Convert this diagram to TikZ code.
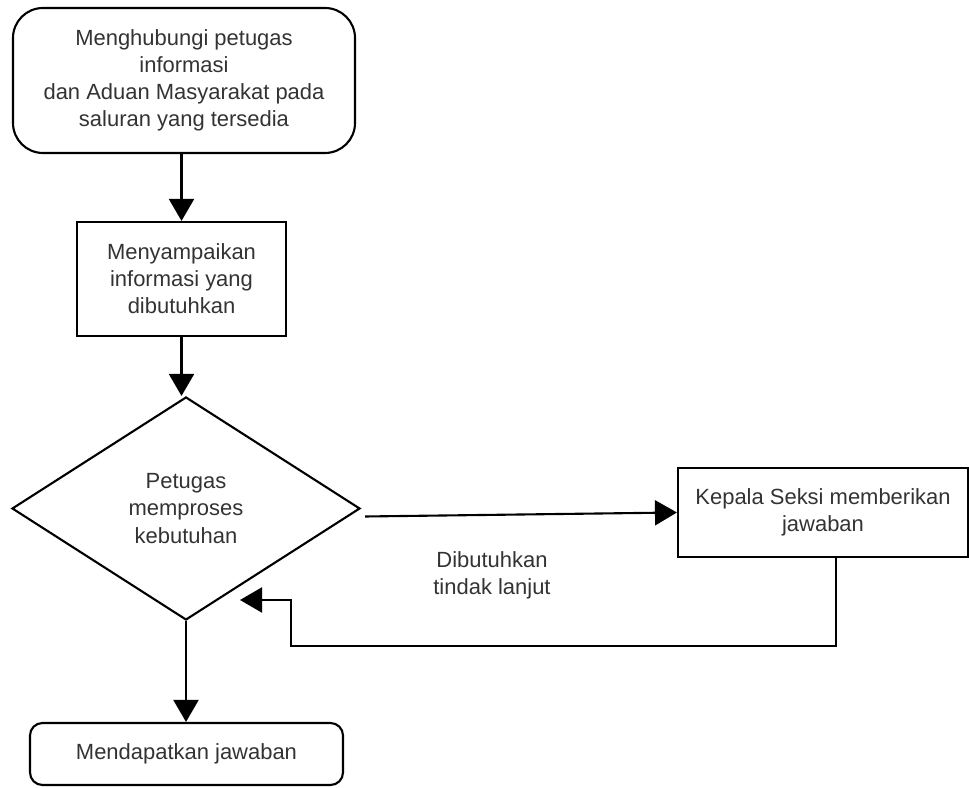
\documentclass[tikz,border=0pt]{standalone}
\usepackage{fontspec}
\setmainfont{Liberation Sans}
\usetikzlibrary{shapes.geometric}
\usetikzlibrary{arrows.meta}
\usetikzlibrary{positioning}
\tikzset{
  txt/.style={align=center, text=black!80, font=\fontsize{12.5}{15.4}\selectfont},
  kotak/.style={txt, draw, line width=1.2pt, inner sep=0pt},
  kotakround/.style={kotak, rounded corners=0.6cm},
  keputusan/.style={txt, draw, line width=1.2pt, diamond, inner sep=0pt},
  panah/.style={line width=1.2pt, -{Triangle[length=0.44cm,width=0.5cm]}},
}

\begin{document}
\begin{tikzpicture}
        \useasboundingbox (0,0) rectangle (19.38,15.74);
        %Kotak
        \node [kotakround, minimum width=6.84cm, minimum height=2.9cm] (mulai) at (3.68,14.13)
              {Menghubungi petugas\\informasi\\dan Aduan Masyarakat pada\\saluran yang tersedia};
        \node [kotak, minimum width=4.18cm, minimum height=2.28cm] (info) at (3.63,10.16)
              {Menyampaikan\\informasi yang\\dibutuhkan};
        \node [keputusan, minimum width=6.96cm, minimum height=4.46cm] (proses) at (3.72,5.57)
              {Petugas\\memproses\\kebutuhan};
        \node [kotak, minimum width=5.8cm, minimum height=1.78cm] (kasi) at (16.46,5.49)
              {Kepala Seksi memberikan\\jawaban};
        \node [kotak, rounded corners=0.25cm, minimum width=6.26cm, minimum height=1.24cm] (selesai) at (3.73,0.66)
              {Mendapatkan jawaban};
        %Label
        \node [txt] (lanjut) at (9.84,4.24) {Dibutuhkan\\tindak lanjut};
        \coordinate (balik) at (4.8,3.74);
        %Panah
        \draw [panah] (mulai.south -| info.north) -- (info.north);
        \draw [panah] (info.south) -- (info.south |- proses.north);
        \draw [panah] ([xshift=0.08cm,yshift=-0.16cm]proses.east) -- (kasi.west);
        \draw [panah] ([xshift=0.26cm]kasi.south) -- ++(0,-1.76) -| ([xshift=1.02cm]balik) -- (balik);
        \draw [panah] (proses.south) -- (proses.south |- selesai.north);
\end{tikzpicture}
\end{document}
